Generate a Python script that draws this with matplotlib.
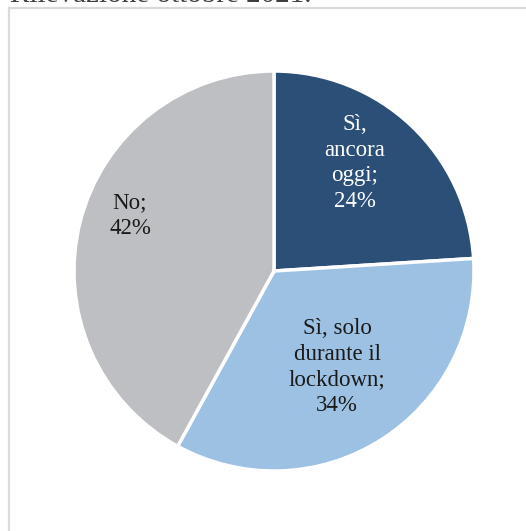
import matplotlib.pyplot as plt
from matplotlib.lines import Line2D

# Data
labels = ['Sì,\nancora\noggi;', 'Sì, solo\ndurante il\nlockdown;', 'No;']
shares = [24, 34, 42]
colors = ['#2C4F78', '#9DC1E3', '#BEBFC3']
text_colors = ['white', '#1a1a1a', '#1a1a1a']
# data label positions (pie radius = 1)
label_pos = [(0.405, 0.54), (0.315, -0.48), (-0.72, 0.275)]

plt.rcParams['font.family'] = ['Liberation Serif', 'DejaVu Serif']

fig = plt.figure(figsize=(5.26, 5.31), dpi=100)
W, H = 526, 531

# light frame (top and left edges visible)
fig.add_artist(Line2D([9 / W, 1], [1 - 8 / H, 1 - 8 / H], color='#DADADA', lw=1.6))
fig.add_artist(Line2D([9 / W, 9 / W], [1 - 8 / H, 0], color='#DADADA', lw=1.6))

# cut-off title above the frame
fig.text(10 / W, 1 - 1.5 / H, 'Rilevazione ottobre 2021.', fontsize=21,
         color='#404040', ha='left', va='baseline')

ax = fig.add_axes([74 / W, 60 / H, 400 / W, 400 / H])
wedges, _ = ax.pie(shares, colors=colors, startangle=90, counterclock=False,
                   wedgeprops=dict(edgecolor='white', linewidth=2.5))
ax.set_xlim(-1, 1)
ax.set_ylim(-1, 1)
ax.set_aspect('equal')
ax.axis('off')

for lab, pct, tc, (x, y) in zip(labels, shares, text_colors, label_pos):
    ax.text(x, y, f'{lab}\n{pct}%', color=tc, ha='center', va='center',
            fontsize=16.5, linespacing=1.3)

fig.savefig('out.png', dpi=100)
